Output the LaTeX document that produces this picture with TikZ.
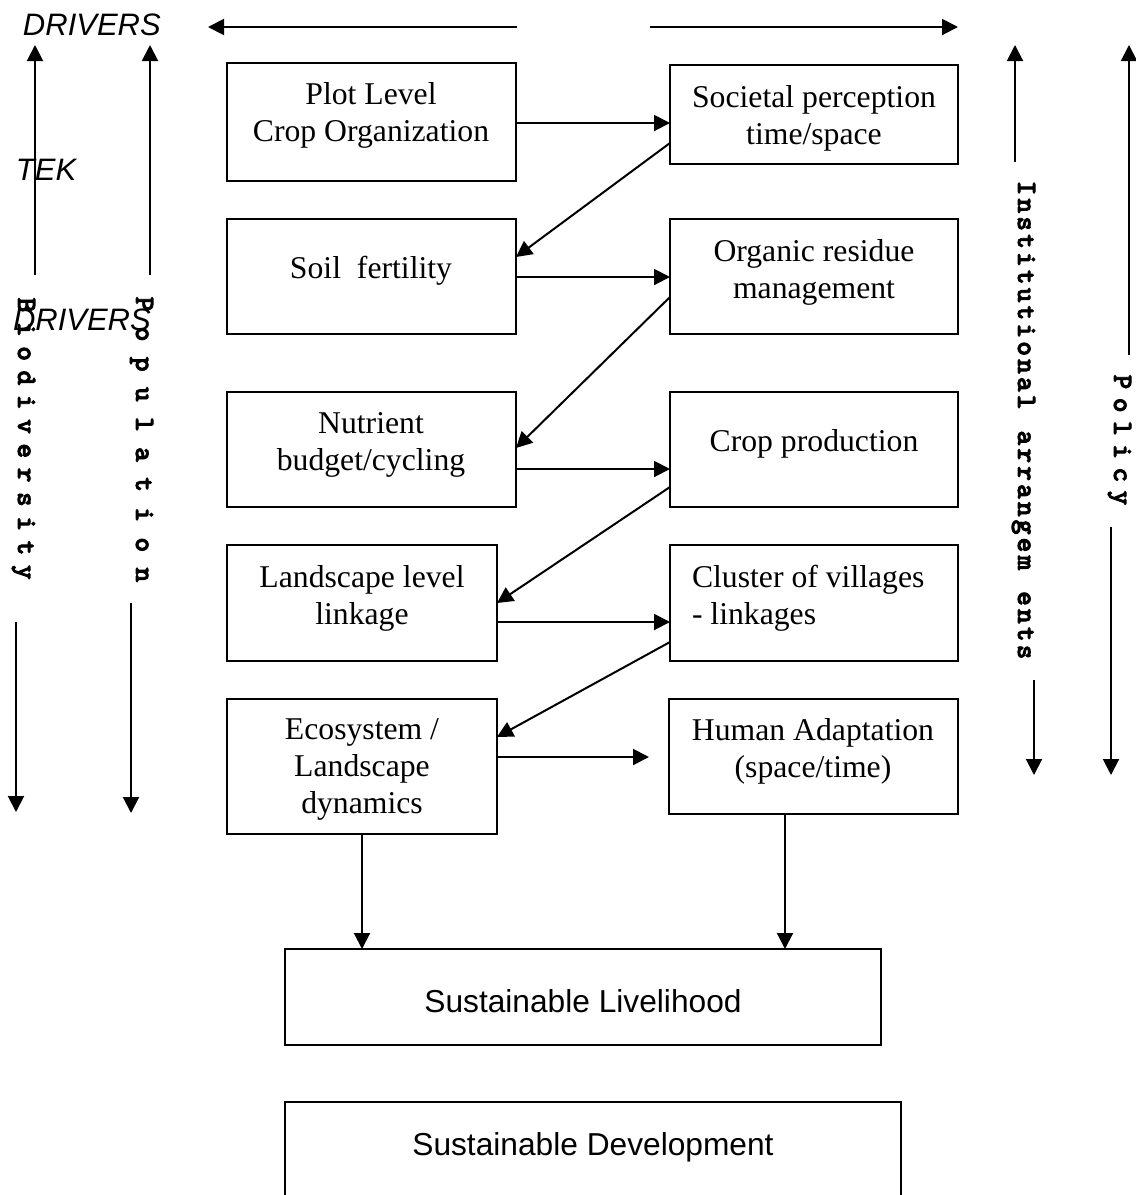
\documentclass[tikz,border=0pt]{standalone}
\usepackage{fontspec}
\setmainfont{Liberation Serif}
\newfontfamily\arialf{Liberation Sans}
\newfontfamily\vmono[FakeBold=3]{lmmonolt10-bold.otf}
\usetikzlibrary{arrows.meta}
\begin{document}
\begin{tikzpicture}[x=1pt,y=-1pt, line width=2pt,
  box/.style={draw, line width=2pt, inner sep=0pt, outer sep=0pt, anchor=north west},
  tnr/.style={font=\fontsize{31.7}{37}\selectfont, align=center, inner sep=0pt},
  ari/.style={font=\arialf\fontsize{31.7}{37}\selectfont, inner sep=0pt},
  arialit/.style={font=\arialf\itshape\fontsize{31}{37}\selectfont, inner sep=0pt, anchor=west},
  vlet/.style={rotate=-90, inner sep=0pt, anchor=base, font=\vmono\fontsize{28}{28}\selectfont},
  arr/.style={-{Triangle[length=16pt,width=16pt]}, line width=2pt}]
\useasboundingbox (0,0) rectangle (1136,1195);

% boxes
\node[box, minimum width=289, minimum height=118] (plot) at (227,63) {};
\node[box, minimum width=288, minimum height=99]  (soc)  at (670,65) {};
\node[box, minimum width=289, minimum height=115] (soil) at (227,219) {};
\node[box, minimum width=288, minimum height=115] (org)  at (670,219) {};
\node[box, minimum width=289, minimum height=115] (nut)  at (227,392) {};
\node[box, minimum width=288, minimum height=115] (crop) at (670,392) {};
\node[box, minimum width=270, minimum height=116] (land) at (227,545) {};
\node[box, minimum width=288, minimum height=116] (clus) at (670,545) {};
\node[box, minimum width=270, minimum height=135] (eco)  at (227,699) {};
\node[box, minimum width=289, minimum height=115] (hum)  at (669,699) {};
\node[box, minimum width=596, minimum height=96]  (live) at (285,949) {};
\node[box, minimum width=616, minimum height=110] (dev)  at (285,1102) {};

% box texts
\node[tnr] (plotT) at (371,115) {Plot Level\\Crop Organization};
\node[tnr] (socT)  at (814,118) {Societal perception\\time/space};
\node[tnr] (soilT) at (371,271) {Soil\ \ fertility};
\node[tnr] (orgT)  at (814,272) {Organic residue\\management};
\node[tnr] (nutT)  at (371,444.5) {Nutrient\\budget/cycling};
\node[tnr] (cropT) at (814,444) {Crop production};
\node[tnr] (landT) at (362,598) {Landscape level\\linkage};
\node[tnr, align=left, anchor=west] (clusT) at (691,598) {Cluster of villages\\- linkages};
\node[tnr] (ecoT)  at (362,769.5) {Ecosystem /\\Landscape\\dynamics};
\node[tnr] (humT)  at (813,751) {Human Adaptation\\(space/time)};
\node[ari] (liveT) at (583,1001) {Sustainable Livelihood};
\node[ari] (devT)  at (593,1147) {Sustainable Development};

% connectors between boxes
\draw[arr] (plot.east |- 0,123) -- (soc.west |- 0,123);
\draw[arr] (soil.east |- 0,277) -- (org.west |- 0,277);
\draw[arr] (nut.east |- 0,469) -- (crop.west |- 0,469);
\draw[arr] (land.east |- 0,622) -- (clus.west |- 0,622);
\draw[arr] (eco.east |- 0,757) -- ([xshift=-20pt]hum.west |- 0,757);
\draw[arr] (soc.west |- 0,143) -- (soil.east |- 0,257);
\draw[arr] (org.west |- 0,297) -- (nut.east |- 0,448);
\draw[arr] (crop.west |- 0,487) -- (land.east |- 0,603);
\draw[arr] (clus.west |- 0,642) -- (eco.east |- 0,737);
\draw[arr] (eco.south) -- (live.north -| eco.south);
\draw[arr] (hum.south -| 785,0) -- (live.north -| 785,0);

% top arrows
\coordinate (tla) at (517,27); \coordinate (tlb) at (208,27);
\coordinate (tra) at (650,27); \coordinate (trb) at (958,27);
\draw[arr] (tla) -- (tlb);
\draw[arr] (tra) -- (trb);

% side arrows
\coordinate (bua) at (35,275);  \coordinate (bub) at (35,45);
\coordinate (bla) at (16,622);  \coordinate (blb) at (16,812);
\coordinate (pua) at (150,275); \coordinate (pub) at (150,45);
\coordinate (pla) at (131,603); \coordinate (plb) at (131,813);
\coordinate (iua) at (1015,162); \coordinate (iub) at (1015,45);
\coordinate (ila) at (1034,680); \coordinate (ilb) at (1034,775);
\coordinate (qua) at (1129,355); \coordinate (qub) at (1129,45);
\coordinate (qla) at (1111,527); \coordinate (qlb) at (1111,775);
\draw[arr] (bua) -- (bub); \draw[arr] (bla) -- (blb);
\draw[arr] (pua) -- (pub); \draw[arr] (pla) -- (plb);
\draw[arr] (iua) -- (iub); \draw[arr] (ila) -- (ilb);
\draw[arr] (qua) -- (qub); \draw[arr] (qla) -- (qlb);

% labels
\node[arialit] (drv1) at (22,25) {DRIVERS};
\node[arialit] (tek)  at (15,170) {TEK};
\node[arialit] (drv2) at (12,320) {DRIVERS};

% vertical texts, letter by letter
\foreach \c [count=\i from 0] in {B,i,o,d,i,v,e,r,s,i,t,y}
  \node[vlet] (bio\i) at (18,305+24.3*\i) {\c};
\foreach \c [count=\i from 0] in {P,o,p,u,l,a,t,i,o,n}
  \node[vlet] (pop\i) at (136,304+30.1*\i) {\c};
\foreach \c [count=\i from 0] in {I,n,s,t,i,t,u,t,i,o,n,a,l,{},a,r,r,a,n,g,e,m,{},e,n,t,s}
  \node[vlet] (ins\i) at (1018,188+17.85*\i) {\c};
\foreach \c [count=\i from 0] in {P,o,l,i,c,y}
  \node[vlet] (pol\i) at (1114,382+23.2*\i) {\c};
\end{tikzpicture}
\end{document}
